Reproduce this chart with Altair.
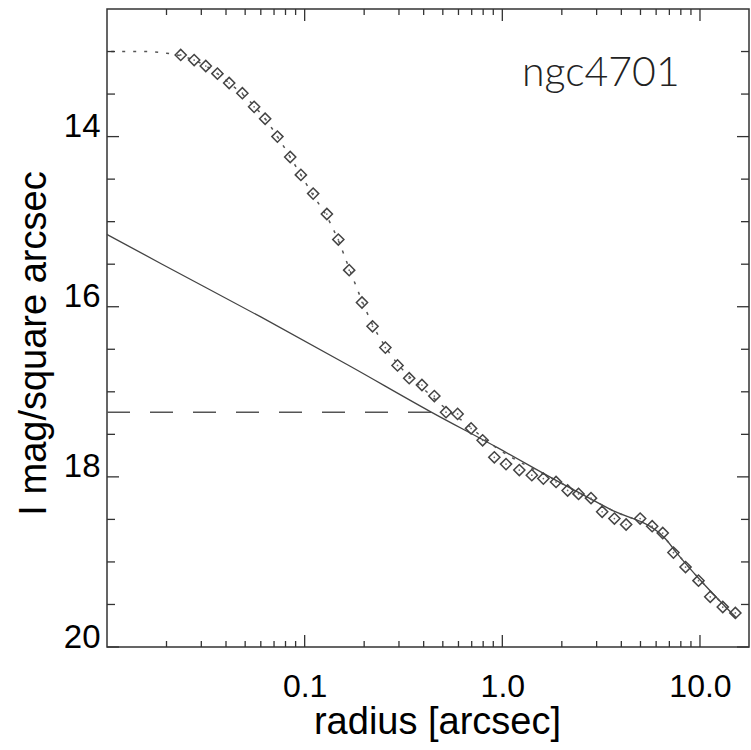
import altair as alt
import pandas as pd

# Surface-brightness profile of NGC 4701 (I band)
galaxy_name = "ngc4701"

# measured isophote points: radius [arcsec] and surface brightness [mag/arcsec^2]
obs_radius = [0.0236, 0.0276, 0.0316, 0.0362, 0.0415, 0.0484, 0.0555, 0.0631, 0.0728, 0.0845,
              0.0957, 0.1104, 0.1295, 0.148, 0.168, 0.195, 0.2205, 0.256, 0.295, 0.338,
              0.392, 0.453, 0.519, 0.594, 0.695, 0.795, 0.911, 1.044, 1.219, 1.41,
              1.613, 1.87, 2.14, 2.43, 2.81, 3.20, 3.69, 4.23, 4.98, 5.73,
              6.48, 7.34, 8.45, 9.83, 11.27, 13.04, 15.1]
obs_mag = [13.04, 13.10, 13.17, 13.26, 13.37, 13.49, 13.65, 13.79, 14.00, 14.24,
           14.45, 14.67, 14.91, 15.21, 15.57, 15.95, 16.23, 16.48, 16.69, 16.84,
           16.92, 17.05, 17.24, 17.26, 17.43, 17.57, 17.77, 17.85, 17.92, 17.98,
           18.02, 18.06, 18.16, 18.20, 18.25, 18.41, 18.49, 18.56, 18.49, 18.58,
           18.66, 18.89, 19.06, 19.22, 19.41, 19.53, 19.60]

# total model (bulge + disk), dotted
model_radius = [0.0105, 0.015, 0.02, 0.0236, 0.0276, 0.0316, 0.0362, 0.0415, 0.0484, 0.0555,
                0.0631, 0.0728, 0.0845, 0.0957, 0.1104, 0.1295, 0.148, 0.168, 0.195, 0.2205,
                0.256, 0.295, 0.338, 0.392, 0.453, 0.519, 0.594, 0.695, 0.795, 0.95,
                1.9, 3.5, 6.7, 7.6, 10.0, 15.0]
model_mag = [13.00, 13.00, 13.02, 13.05, 13.10, 13.17, 13.26, 13.37, 13.50, 13.64,
             13.79, 14.00, 14.24, 14.45, 14.69, 14.94, 15.22, 15.55, 15.93, 16.21,
             16.47, 16.67, 16.82, 16.95, 17.08, 17.20, 17.30, 17.42, 17.54, 17.67,
             18.05, 18.38, 18.73, 18.89, 19.21, 19.64]

# outer component, solid
outer_radius = [0.01, 0.019, 0.06, 0.17, 0.43, 0.95, 1.9, 3.5, 6.7, 7.6, 10.0, 15.3]
outer_mag = [15.15, 15.50, 16.12, 16.70, 17.23, 17.66, 18.05, 18.38, 18.73, 18.89, 19.21, 19.66]

# reference level, dashed
ref_radius = [0.01, 0.45]
ref_mag = [17.24, 17.24]

# axis tick positions
x_major = [0.1, 1.0, 10.0]
x_minor = [0.02, 0.03, 0.04, 0.05, 0.06, 0.07, 0.08, 0.09,
           0.2, 0.3, 0.4, 0.5, 0.6, 0.7, 0.8, 0.9,
           2, 3, 4, 5, 6, 7, 8, 9]
y_major = [14, 16, 18, 20]
y_minor = [13.0, 13.5, 14.5, 15.0, 15.5, 16.5, 17.0, 17.5, 18.5, 19.0, 19.5]

W, H = 642, 638
FONT = "Liberation Sans"
INK = "#333333"

xscale = alt.Scale(type="log", domain=[0.01, 17.7], nice=False)
yscale = alt.Scale(domain=[12.5, 20], reverse=True, nice=False, zero=False)

x_axis = alt.Axis(values=x_major, format=".1f", grid=False, ticks=False, tickSize=0, domain=False,
                  labelFont=FONT, labelFontSize=32, labelColor="black", labelBaseline="alphabetic",
                  labelPadding=49, labelFlush=False,
                  title="radius [arcsec]", titleFont=FONT, titleFontSize=38, titleFontWeight="normal",
                  titleColor="black", titleX=330, titleY=86, titleBaseline="alphabetic", titleAlign="center")
y_axis = alt.Axis(values=y_major, format="d", grid=False, ticks=False, tickSize=0, domain=False,
                  labelFont=FONT, labelFontSize=33, labelColor="black", labelBaseline="alphabetic",
                  labelPadding=7, labelFlush=False,
                  title="I mag/square arcsec", titleFont=FONT, titleFontSize=38, titleFontWeight="normal",
                  titleColor="black", titleAngle=270, titleX=-62, titleY=334,
                  titleBaseline="alphabetic", titleAlign="center")


def X():
    return alt.X("r:Q", scale=xscale, axis=x_axis)


def Y():
    return alt.Y("mag:Q", scale=yscale, axis=y_axis)


obs = pd.DataFrame({"r": obs_radius, "mag": obs_mag})
model = pd.DataFrame({"r": model_radius, "mag": model_mag})
outer = pd.DataFrame({"r": outer_radius, "mag": outer_mag})
ref = pd.DataFrame({"r": ref_radius, "mag": ref_mag})

points = alt.Chart(obs).mark_point(shape="diamond", size=125, filled=False,
                                    stroke="#444444", strokeWidth=1.5, opacity=1).encode(x=X(), y=Y())
centers = alt.Chart(obs).mark_point(shape="circle", size=3, filled=True, color="#666666",
                                     opacity=1).encode(x=X(), y=Y())
model_line = alt.Chart(model).mark_line(color="#555555", strokeWidth=1.5, strokeDash=[3, 8],
                                        interpolate="monotone").encode(x=X(), y=Y(), order="r:Q")
outer_line = alt.Chart(outer).mark_line(color="#444444", strokeWidth=1.3,
                                        interpolate="monotone").encode(x=X(), y=Y(), order="r:Q")
ref_line = alt.Chart(ref).mark_line(color="#555555", strokeWidth=1.5,
                                    strokeDash=[23, 20]).encode(x=X(), y=Y())


# inward-pointing ticks on all four sides
def xticks(values, length):
    d = pd.DataFrame({"r": values})
    bottom = alt.Chart(d).mark_rule(color=INK, strokeWidth=1.3).encode(
        x=X(), y=alt.value(H), y2=alt.value(H - length))
    top = alt.Chart(d).mark_rule(color=INK, strokeWidth=1.3).encode(
        x=X(), y=alt.value(0), y2=alt.value(length))
    return [bottom, top]


def yticks(values, length):
    d = pd.DataFrame({"mag": values})
    left = alt.Chart(d).mark_rule(color=INK, strokeWidth=1.3).encode(
        y=Y(), x=alt.value(0), x2=alt.value(length))
    right = alt.Chart(d).mark_rule(color=INK, strokeWidth=1.3).encode(
        y=Y(), x=alt.value(W), x2=alt.value(W - length))
    return [left, right]


label = alt.Chart(pd.DataFrame({"name": [galaxy_name]})).mark_text(
    align="left", baseline="alphabetic", font="Lato", fontWeight=300, fontSize=41, color="#222222"
).encode(text="name:N", x=alt.value(415), y=alt.value(77))

chart = alt.layer(
    ref_line, outer_line, model_line, points, centers,
    *xticks(x_major, 12), *xticks(x_minor, 6),
    *yticks(y_major, 12), *yticks(y_minor, 8),
    label,
).properties(
    width=W, height=H,
    autosize=alt.AutoSizeParams(type="none"),
    padding={"left": 107, "top": 9, "right": 2, "bottom": 103},
).configure(
    background="white",
    view=alt.ViewConfig(stroke=INK, strokeWidth=1.5),
)

chart.save("out.html", embed_options={"renderer": "svg", "actions": False})
